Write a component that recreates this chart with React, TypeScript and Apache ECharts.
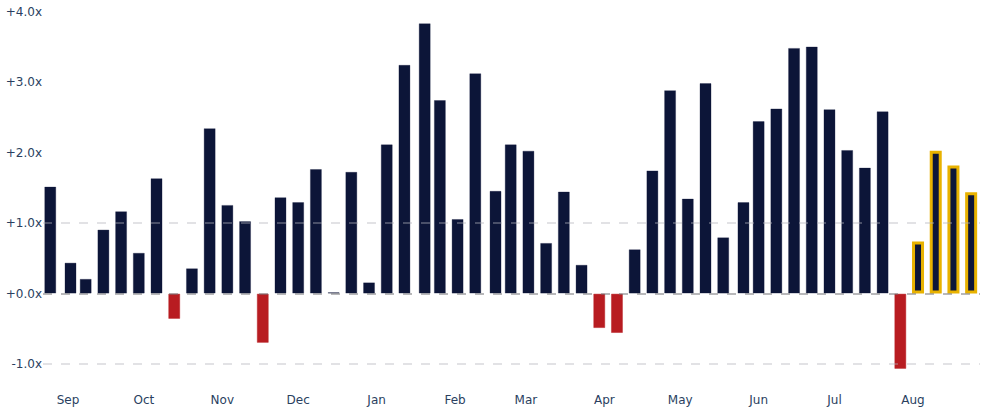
import React, { useRef, useEffect } from 'react';
import * as echarts from 'echarts';

// weekly readings, Aug 2024 - Aug 2025
const weekDates = [
  '2024-08-25', '2024-09-02', '2024-09-08', '2024-09-15', '2024-09-22', '2024-09-29',
  '2024-10-06', '2024-10-13', '2024-10-20', '2024-10-27', '2024-11-03', '2024-11-10',
  '2024-11-17', '2024-11-24', '2024-12-01', '2024-12-08', '2024-12-15', '2024-12-22',
  '2024-12-29', '2025-01-05', '2025-01-12', '2025-01-20', '2025-01-26', '2025-02-02',
  '2025-02-09', '2025-02-17', '2025-02-23', '2025-03-02', '2025-03-09', '2025-03-16',
  '2025-03-23', '2025-03-30', '2025-04-06', '2025-04-13', '2025-04-20', '2025-04-27',
  '2025-05-04', '2025-05-11', '2025-05-18', '2025-05-26', '2025-06-01', '2025-06-08',
  '2025-06-15', '2025-06-22', '2025-06-29', '2025-07-06', '2025-07-13', '2025-07-20',
  '2025-07-27', '2025-08-03', '2025-08-10', '2025-08-17', '2025-08-24',
];

const multiples = [
  1.52, 0.44, 0.21, 0.91, 1.17, 0.58,
  1.64, -0.36, 0.36, 2.35, 1.26, 1.03,
  -0.70, 1.37, 1.30, 1.77, 0.02, 1.73,
  0.16, 2.12, 3.25, 3.84, 2.75, 1.06,
  3.13, 1.46, 2.12, 2.03, 0.72, 1.45,
  0.41, -0.49, -0.56, 0.63, 1.75, 2.89,
  1.35, 2.99, 0.80, 1.30, 2.45, 2.63,
  3.49, 3.51, 2.62, 2.04, 1.79, 2.59,
  -1.07, 0.74, 2.03, 1.82, 1.44,
];

// the latest weeks are outlined
const highlighted = ['2025-08-03', '2025-08-10', '2025-08-17', '2025-08-24'];

const monthLabels = ['Jan', 'Feb', 'Mar', 'Apr', 'May', 'Jun', 'Jul', 'Aug', 'Sep', 'Oct', 'Nov', 'Dec'];
const guideLines = [1, -1];

// echarts pads a time axis by half a bar on each side, so these sit a little inside the visible range
const axisStart = new Date(2024, 7, 24, 12).getTime();
const axisEnd = new Date(2025, 7, 25, 3).getTime();

const NAVY = '#0c1538';
const RED = '#b81c21';
const GOLD = '#e8b200';
const TEXT = '#2a3f5f';
const FONT = 'Verdana, "DejaVu Sans", sans-serif';
const DAY = 86400000;

const fmtMultiple = (v: number) => (v >= 0 ? '+' : '') + v.toFixed(1) + 'x';

const App: React.FC = () => {
  const chartRef = useRef<HTMLDivElement>(null);

  useEffect(() => {
    document.body.style.margin = '0';
    if (!chartRef.current) return;
    const chart = echarts.init(chartRef.current, undefined, { renderer: 'svg' });

    const data = weekDates.map((d, i) => {
      const v = multiples[i];
      const gold = highlighted.includes(d);
      return {
        value: [d, v],
        itemStyle: gold
          ? { color: NAVY, borderColor: GOLD, borderWidth: 3 }
          : v < 0
          ? { color: RED, borderColor: 'rgba(184,28,33,0.45)', borderWidth: 1 }
          : { color: NAVY, borderColor: 'rgba(12,21,56,0.3)', borderWidth: 1 },
      };
    });

    chart.setOption({
      animation: false,
      grid: { left: 43, right: 5, top: 12, bottom: 50, containLabel: false },
      xAxis: {
        type: 'time',
        min: axisStart,
        max: axisEnd,
        minInterval: 28 * DAY,
        maxInterval: 31 * DAY,
        axisLine: { show: false },
        axisTick: { show: false },
        splitLine: { show: false },
        axisLabel: {
          color: TEXT,
          fontFamily: FONT,
          fontSize: 12,
          margin: 30,
          showMinLabel: false,
          showMaxLabel: false,
          formatter: (val: number) => monthLabels[new Date(val).getMonth()],
        },
      },
      yAxis: {
        type: 'value',
        min: -1,
        max: 4,
        interval: 1,
        axisLine: { show: false },
        axisTick: { show: false },
        splitLine: { show: false },
        axisLabel: {
          color: TEXT,
          fontFamily: FONT,
          fontSize: 12,
          margin: 1,
          formatter: fmtMultiple,
        },
      },
      series: [
        {
          type: 'bar',
          barWidth: 12,
          clip: false,
          data,
          markLine: {
            silent: true,
            symbol: 'none',
            label: { show: false },
            data: [
              ...guideLines.map((y) => ({
                yAxis: y,
                lineStyle: { color: 'rgba(180,180,186,0.5)', width: 1.5, type: [9, 9] },
              })),
              { yAxis: 0, lineStyle: { color: 'rgba(110,110,115,0.65)', width: 1.5, type: [9, 9] } },
            ],
          },
        },
      ],
    });

    return () => {
      chart.dispose();
    };
  }, []);

  return <div ref={chartRef} style={{ width: 985, height: 414 }} />;
};

export default App;
